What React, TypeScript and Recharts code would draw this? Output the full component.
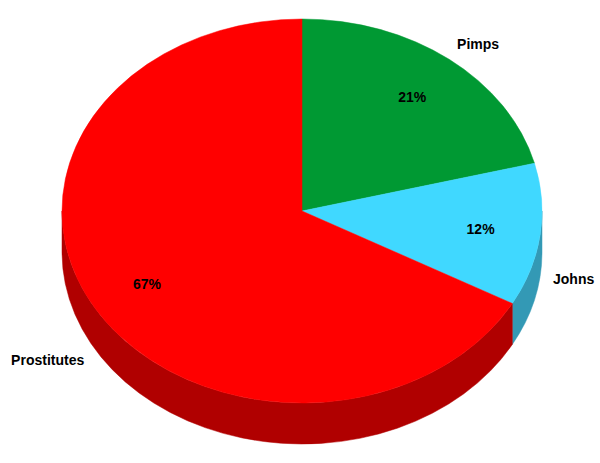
import { PieChart, Pie } from 'recharts';

// slice values, clockwise from 12 o'clock
const categories = ['Pimps', 'Johns', 'Prostitutes'];
const shares = [21, 12, 67];

const TOP_COLORS = ['#009933', '#40d8ff', '#ff0000'];
const SIDE_COLORS = ['#006b24', '#3399b5', '#b00000'];

const data = categories.map((name, i) => ({ name, value: shares[i] }));

// the pie is squashed into an ellipse and given some depth
const RX = 240;
const RY = 192;
const DEPTH = 41;
const RAD = Math.PI / 180;
const FONT = '"Liberation Sans", Arial, sans-serif';

const pt = (cx: number, cy: number, a: number, dy = 0) =>
  `${cx + RX * Math.cos(a * RAD)},${cy - RY * Math.sin(a * RAD) + dy}`;

function renderSide(props: any) {
  const { cx, cy, startAngle, endAngle, index } = props;
  const lo = Math.min(startAngle, endAngle);
  const hi = Math.max(startAngle, endAngle);
  const paths: string[] = [];
  // only the lower (front) half of the rim is visible
  for (let k = -2; k <= 1; k++) {
    const l = Math.max(lo, -180 + 360 * k);
    const h = Math.min(hi, 360 * k);
    if (h > l) {
      paths.push(
        `M${pt(cx, cy, h)} A${RX} ${RY} 0 0 1 ${pt(cx, cy, l)} L${pt(cx, cy, l, DEPTH)} A${RX} ${RY} 0 0 0 ${pt(cx, cy, h, DEPTH)} Z`
      );
    }
  }
  const c = SIDE_COLORS[index % SIDE_COLORS.length];
  return (
    <g key={`side-${index}`}>
      {paths.map((d, i) => (
        <path key={i} d={d} fill={c} stroke={c} strokeWidth={0.5} />
      ))}
    </g>
  );
}

function renderTop(props: any) {
  const { cx, cy, startAngle, endAngle, index } = props;
  const large = Math.abs(startAngle - endAngle) > 180 ? 1 : 0;
  const c = TOP_COLORS[index % TOP_COLORS.length];
  const d = `M${cx},${cy} L${pt(cx, cy, startAngle)} A${RX} ${RY} 0 ${large} 1 ${pt(cx, cy, endAngle)} Z`;
  return <path key={`top-${index}`} d={d} fill={c} stroke={c} strokeWidth={0.5} />;
}

function renderText(props: any) {
  const { cx, cy, startAngle, endAngle, index, percent, name } = props;
  const m = ((startAngle + endAngle) / 2) * RAD;
  const cos = Math.cos(m);
  const sin = Math.sin(m);
  const px = cx + 0.75 * RX * cos;
  const py = cy - 0.75 * RY * sin;
  const push = 13;
  const nx = cx + RX * cos + push * cos;
  const ny = cy - RY * sin + (sin < 0 ? DEPTH : 0) - push * 1.5 * sin;
  const anchor = cos > 0.1 ? 'start' : cos < -0.1 ? 'end' : 'middle';
  return (
    <g key={`txt-${index}`} fontFamily={FONT} fontWeight="bold" fontSize={14} fill="#000">
      <text x={px} y={py} textAnchor="middle" dominantBaseline="central">
        {`${Math.round(percent * 100)}%`}
      </text>
      <text x={nx} y={ny} textAnchor={anchor} dominantBaseline="central">
        {name}
      </text>
    </g>
  );
}

export default function App() {
  const common = {
    data,
    dataKey: 'value',
    nameKey: 'name',
    cx: 302,
    cy: 211,
    outerRadius: RX,
    startAngle: 90,
    endAngle: -270,
    fill: 'none',
    stroke: 'none',
    labelLine: false,
    isAnimationActive: false,
  };
  return (
    <div style={{ width: 600, height: 463, background: '#fff' }}>
      <style>{'body{margin:0}'}</style>
      <PieChart width={600} height={463} margin={{ top: 0, right: 0, bottom: 0, left: 0 }}>
        <Pie {...common} label={renderSide} />
        <Pie {...common} label={renderTop} />
        <Pie {...common} label={renderText} />
      </PieChart>
    </div>
  );
}
